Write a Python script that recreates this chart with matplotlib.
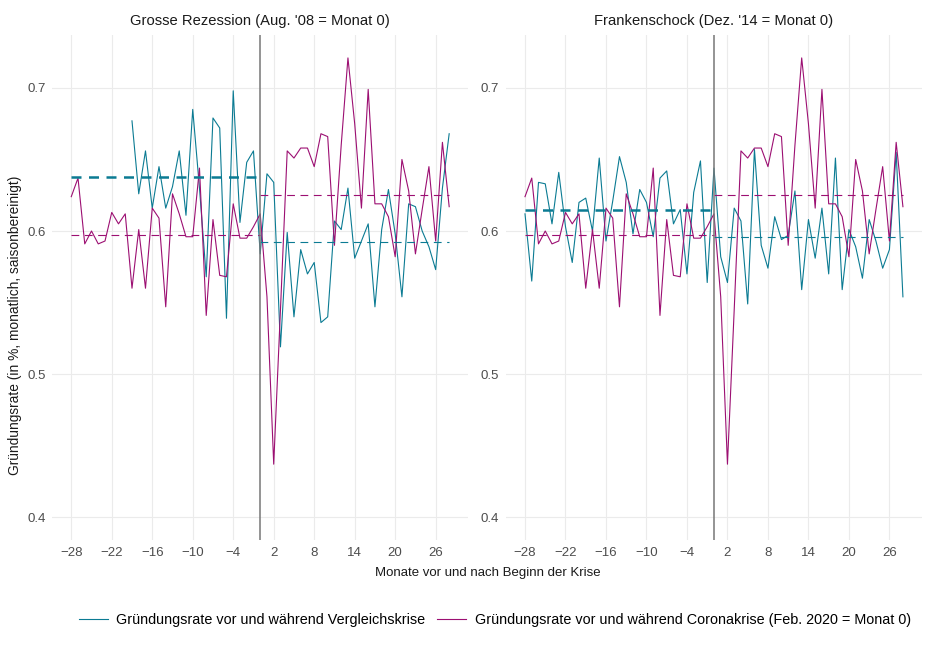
import matplotlib
matplotlib.use("Agg")
import matplotlib.pyplot as plt
import numpy as np

plt.rcParams['font.family'] = ['Liberation Sans', 'DejaVu Sans']

# data
months_corona = list(range(-28, 29))
corona = [0.624, 0.637, 0.591, 0.600, 0.591, 0.593, 0.613, 0.605, 0.612, 0.560,
          0.601, 0.560, 0.616, 0.609, 0.547, 0.626, 0.612, 0.596, 0.596, 0.644,
          0.541, 0.608, 0.569, 0.568, 0.619, 0.595, 0.595, 0.603, 0.612,
          0.554, 0.437, 0.545, 0.656, 0.651, 0.658, 0.658, 0.645, 0.668, 0.666,
          0.590, 0.660, 0.721, 0.675, 0.616, 0.699, 0.619, 0.619, 0.610, 0.582,
          0.650, 0.628, 0.584, 0.615, 0.645, 0.593, 0.662, 0.617]

months_rezession = list(range(-19, 29))
rezession = [0.677, 0.626, 0.656, 0.616, 0.645, 0.616, 0.631, 0.656, 0.611, 0.685,
             0.630, 0.568, 0.679, 0.672, 0.539, 0.698, 0.606, 0.648, 0.656, 0.584,
             0.640, 0.634, 0.519, 0.599, 0.540, 0.587, 0.570, 0.578, 0.536, 0.540,
             0.607, 0.601, 0.630, 0.581, 0.593, 0.605, 0.547, 0.601, 0.629, 0.598,
             0.554, 0.619, 0.617, 0.600, 0.589, 0.573, 0.630, 0.668]

months_franken = list(range(-28, 29))
franken = [0.612, 0.565, 0.634, 0.633, 0.605, 0.641, 0.603, 0.578, 0.620, 0.623,
           0.600, 0.651, 0.593, 0.621, 0.652, 0.634, 0.598, 0.629, 0.620, 0.596,
           0.637, 0.642, 0.605, 0.615, 0.570, 0.627, 0.649, 0.564, 0.644,
           0.582, 0.564, 0.616, 0.607, 0.549, 0.657, 0.590, 0.574, 0.610, 0.594,
           0.597, 0.628, 0.559, 0.608, 0.581, 0.616, 0.570, 0.651, 0.559, 0.601,
           0.589, 0.567, 0.608, 0.593, 0.574, 0.587, 0.655, 0.554]

# means before / after month 0: (comparison pre, comparison post, corona pre, corona post)
means_rezession = [0.6376, 0.592, 0.5973, 0.6255]
means_franken = [0.6146, 0.596, 0.5973, 0.6255]

titles = ["Grosse Rezession (Aug. '08 = Monat 0)", "Frankenschock (Dez. '14 = Monat 0)"]
xticks = list(range(-28, 27, 6))
yticks = [0.4, 0.5, 0.6, 0.7]

teal = "#0b7b93"
magenta = "#9c0f72"

fig = plt.figure(figsize=(9.3, 6.51), dpi=100)
ax1 = fig.add_axes([0.0563, 0.1705, 0.447, 0.7757])
ax2 = fig.add_axes([0.5442, 0.1705, 0.447, 0.7757])

panels = [(ax1, months_rezession, rezession, means_rezession, titles[0]),
          (ax2, months_franken, franken, means_franken, titles[1])]

for ax, mx, vals, means, title in panels:
    ax.plot(mx, vals, color=teal, lw=0.8, label="Gründungsrate vor und während Vergleichskrise")
    ax.plot(months_corona, corona, color=magenta, lw=0.8,
            label="Gründungsrate vor und während Coronakrise (Feb. 2020 = Monat 0)")
    ax.hlines(means[0], -28, 0, color=teal, lw=1.8, linestyles=(0, (4, 3)))
    ax.hlines(means[1], 0, 28, color=teal, lw=0.8, linestyles=(0, (7, 5)))
    ax.hlines(means[2], -28, 0, color=magenta, lw=0.8, linestyles=(0, (7, 5)))
    ax.hlines(means[3], 0, 28, color=magenta, lw=0.8, linestyles=(0, (7, 5)))
    ax.axvline(0, color="#777777", lw=1.1)
    ax.set_xlim(-30.8, 30.8)
    ax.set_ylim(0.384, 0.737)
    ax.set_xticks(xticks)
    ax.set_yticks(yticks)
    ax.set_yticklabels([str(t) for t in yticks])
    ax.grid(True, color="#ebebeb", lw=0.8)
    ax.set_axisbelow(True)
    for s in ax.spines.values():
        s.set_visible(False)
    ax.tick_params(length=0, labelsize=9.5, colors="#4d4d4d", pad=5)
    ax.set_title(title, fontsize=10.6, color="#1a1a1a", pad=7)

fig.text(0.016, 0.5, "Gründungsrate (in %, monatlich, saisonbereinigt)", rotation=90,
         va="center", ha="center", fontsize=9.9, color="#1a1a1a")
fig.text(0.524, 1 - 573 / 651, "Monate vor und nach Beginn der Krise", ha="center",
         va="center", fontsize=9.5, color="#1a1a1a")

handles, labels = ax1.get_legend_handles_labels()
fig.legend(handles, labels, loc="center", bbox_to_anchor=(0.532, 1 - 620 / 651), ncol=2,
           frameon=False, fontsize=10.4, handlelength=2, columnspacing=0.8, handletextpad=0.6)

fig.savefig("out.png", dpi=100)
